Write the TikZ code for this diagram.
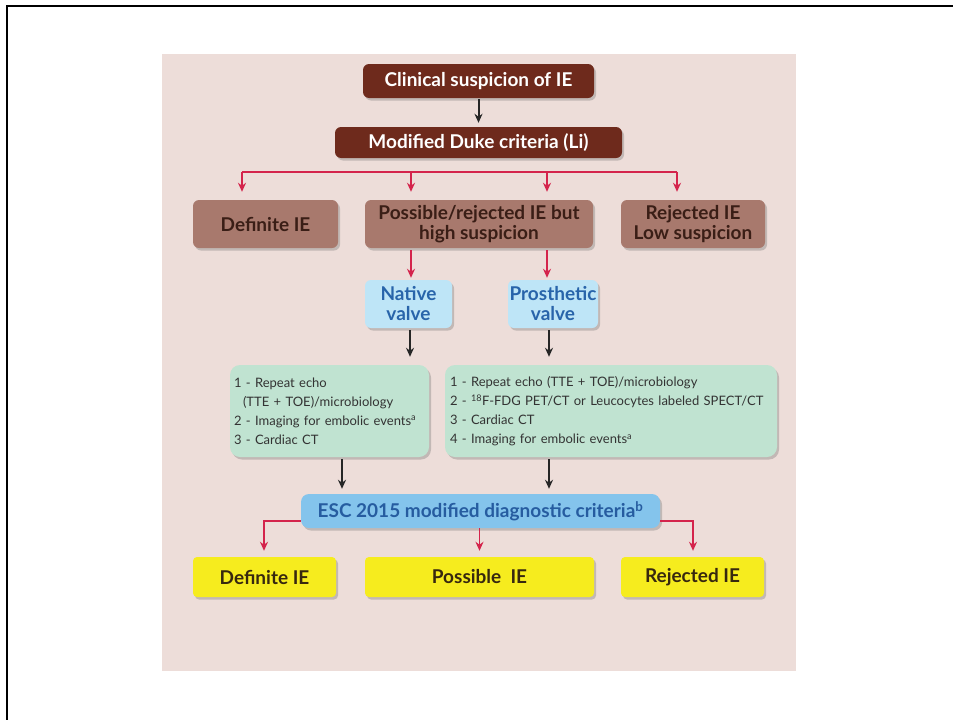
\documentclass[tikz,border=0pt]{standalone}
\usepackage{fontspec}
\setmainfont{Lato}
\usetikzlibrary{arrows.meta,shadows}
\definecolor{bgpink}{RGB}{237,221,217}
\definecolor{darkbrown}{RGB}{110,42,28}
\definecolor{midbrown}{RGB}{168,121,109}
\definecolor{browntext}{RGB}{58,30,22}
\definecolor{valveblue}{RGB}{190,229,247}
\definecolor{valvetext}{RGB}{40,100,170}
\definecolor{mint}{RGB}{192,227,209}
\definecolor{escblue}{RGB}{132,196,236}
\definecolor{esctext}{RGB}{38,92,160}
\definecolor{yel}{RGB}{246,236,30}
\definecolor{yeltext}{RGB}{55,40,15}
\definecolor{arrred}{RGB}{212,36,76}
\tikzset{
  box/.style={rounded corners=6pt, inner sep=0pt, align=center, anchor=center,
    drop shadow={shadow xshift=2pt, shadow yshift=-2.5pt, opacity=0.35, fill=black!55},
    font=\fontsize{19}{20}\selectfont\bfseries},
  topbox/.style={box, fill=darkbrown, text=white},
  midbox/.style={box, fill=midbrown, text=browntext, minimum height=48pt},
  valvebox/.style={box, fill=valveblue, text=valvetext, minimum height=48pt},
  greenbox/.style={box, rounded corners=10pt, fill=mint, text=black!80, align=left,
    minimum height=92pt, font=\fontsize{13}{19}\selectfont},
  escbox/.style={box, rounded corners=8pt, fill=escblue, text=esctext},
  yelbox/.style={box, rounded corners=4pt, fill=yel, text=yeltext, minimum height=40pt},
  redarr/.style={draw=arrred, line width=1.6pt, -{Stealth[length=9pt,width=8pt]}},
  redline/.style={draw=arrred, line width=1.6pt},
  blackarr/.style={draw=black!85, line width=2pt, -{Stealth[length=9pt,width=8pt]}},
}
\begin{document}
\begin{tikzpicture}[x=1pt,y=-1pt]
\useasboundingbox (0,0) rectangle (953,720);
\fill[white] (0,0) rectangle (953,720);
\fill[bgpink] (162,54) rectangle (796,671);
\draw[line width=2.5pt, black] (7,720) -- (7,6) -- (953,6);

% nodes
\node[topbox, minimum width=231pt, minimum height=34pt] (clin) at (478.5,81) {Clinical suspicion of IE};
\node[topbox, minimum width=287pt, minimum height=31pt] (duke) at (478.5,142.5) {Modified Duke criteria (Li)};

\node[midbox, minimum width=145pt] (def1) at (265.5,224) {Definite IE};
\node[midbox, minimum width=228pt] (pos1) at (479,224) {Possible/rejected IE but\\high suspicion};
\node[midbox, minimum width=144pt] (rej1) at (693,224) {Rejected IE\\Low suspicion};

\node[valvebox, minimum width=87pt] (nat) at (408.5,304) {Native\\valve};
\node[valvebox, minimum width=90pt] (pro) at (553,304) {Prosthetic\\valve};

\node[greenbox, minimum width=199pt, text width=191pt] (gl) at (329.5,411)
  {1 - Repeat echo\\\hspace*{9pt}(TTE + TOE)/microbiology\\2 - Imaging for embolic events\textsuperscript{a}\\3 - Cardiac CT};
\node[greenbox, minimum width=332pt, text width=322pt] (gr) at (611,411)
  {1 - Repeat echo (TTE + TOE)/microbiology\\2 - \textsuperscript{18}F-FDG PET/CT or Leucocytes labeled SPECT/CT\\3 - Cardiac CT\\4 - Imaging for embolic events\textsuperscript{a}};

\node[escbox, minimum width=359pt, minimum height=34pt] (esc) at (480.5,511) {ESC 2015 modified diagnostic criteria\textsuperscript{b}};

\node[yelbox, minimum width=143pt] (def2) at (264.5,577) {Definite IE};
\node[yelbox, minimum width=229pt] (pos2) at (479.5,577) {Possible\ \ IE};
\node[yelbox, minimum width=143pt] (rej2) at (692.5,577) {Rejected IE};

% connectors
\draw[blackarr, shorten >=4pt] ([yshift=-1pt]clin.south) -- (duke.north);

\coordinate (b1) at (242,172);
\coordinate (b2) at (411,172);
\coordinate (b3) at (547,172);
\coordinate (b4) at (677,172);
\draw[redline] (b1) -- (b4);
\draw[redarr, shorten >=8pt] (b1) -- (b1 |- def1.north);
\draw[redarr, shorten >=8pt] (b2) -- (b2 |- pos1.north);
\draw[redarr, shorten >=8pt] (b3) -- (b3 |- pos1.north);
\draw[redarr, shorten >=8pt] (b4) -- (b4 |- rej1.north);

\draw[redarr, shorten <=2pt, shorten >=2pt] (b2 |- pos1.south) -- (b2 |- nat.north);
\draw[redarr, shorten <=2pt, shorten >=2pt] (b3 |- pos1.south) -- (b3 |- pro.north);

\coordinate (nx) at (410,0);
\coordinate (px) at (549,0);
\coordinate (lx) at (342,0);
\draw[blackarr, shorten <=2pt, shorten >=8pt] (nx |- nat.south) -- (nx |- gl.north);
\draw[blackarr, shorten <=2pt, shorten >=8pt] (px |- pro.south) -- (px |- gr.north);

\draw[blackarr, shorten <=2pt, shorten >=5pt] (lx |- gl.south) -- (lx |- esc.north);
\draw[blackarr, shorten <=2pt, shorten >=5pt] (px |- gr.south) -- (px |- esc.north);

\coordinate (el) at (264,521);
\coordinate (er) at (693,521);
\draw[redarr, shorten >=6pt] (esc.west |- el) -| (def2.north -| el);
\draw[redarr, shorten >=6pt] (esc.south -| pos2) -- (pos2.north);
\draw[redarr, shorten >=6pt] (esc.east |- er) -| (rej2.north -| er);
\end{tikzpicture}
\end{document}
